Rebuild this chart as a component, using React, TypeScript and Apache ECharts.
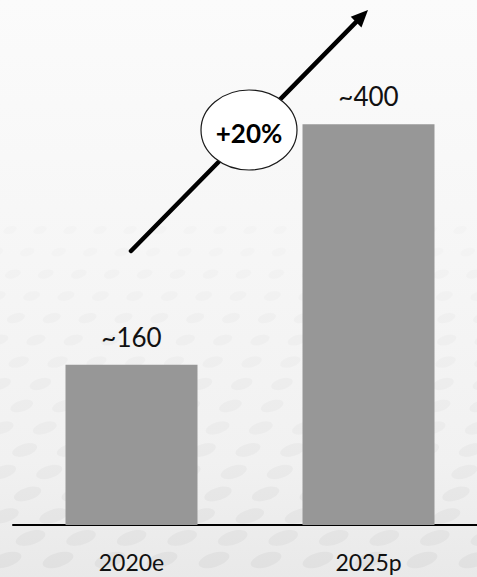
import React, { useEffect, useRef } from "react";
import * as echarts from "echarts";

// Market size by period
const categories = ["2020e", "2025p"];
const values = [160, 400];
const growthLabel = "+20%";

const FONT = "Lato, 'Open Sans', sans-serif";

// faint dotted backdrop in the lower part of the canvas
function backdropDots() {
  const dots: any[] = [];
  for (let row = 0; row < 16; row++) {
    const y = 230 + row * 22;
    const t = row / 15;
    const rx = 7 + t * 9;
    const ry = 4 + t * 3;
    const step = 30 + t * 22;
    const offset = (row % 2) * step * 0.5;
    for (let x = -20 + offset; x < 500; x += step) {
      dots.push({
        type: "ellipse",
        z: -9,
        silent: true,
        x,
        y,
        rotation: 0.3,
        shape: { cx: 0, cy: 0, rx, ry },
        style: { fill: `rgba(0,0,0,${0.012 + t * 0.022})` },
      });
    }
  }
  return dots;
}

export default function App() {
  const ref = useRef<HTMLDivElement>(null);

  useEffect(() => {
    document.body.style.margin = "0";
    if (!ref.current) return;
    const chart = echarts.init(ref.current, null, { renderer: "svg" });

    // arrow geometry (annotation)
    const start = [131, 251];
    const tip = [368, 10];
    const dx = tip[0] - start[0];
    const dy = tip[1] - start[1];
    const len = Math.hypot(dx, dy);
    const ux = dx / len;
    const uy = dy / len;
    const headLen = 17;
    const headHalf = 7.5;
    const bx = tip[0] - ux * headLen;
    const by = tip[1] - uy * headLen;
    const nx = -uy;
    const ny = ux;

    chart.setOption({
      animation: false,
      grid: {
        left: 13,
        width: 474,
        top: 24,
        bottom: 52,
        outerBoundsMode: "none",
        containLabel: false,
      },
      xAxis: {
        type: "category",
        data: categories,
        axisLine: { show: true, lineStyle: { color: "#000", width: 2 } },
        axisTick: { show: false },
        axisLabel: {
          margin: 25,
          fontSize: 23,
          fontFamily: FONT,
          color: "#111",
        },
      },
      yAxis: {
        type: "value",
        min: 0,
        max: 500,
        show: false,
        splitLine: { show: false },
      },
      series: [
        {
          type: "bar",
          data: values,
          barWidth: 132,
          itemStyle: { color: "#979797" },
          label: {
            show: true,
            position: "top",
            distance: 15,
            fontSize: 26,
            fontFamily: FONT,
            color: "#111",
            formatter: (p: any) => "~" + p.value,
          },
        },
      ],
      graphic: [
        {
          type: "rect",
          z: -10,
          silent: true,
          shape: { x: 0, y: 0, width: 477, height: 577 },
          style: {
            fill: new echarts.graphic.LinearGradient(0, 0, 0, 1, [
              { offset: 0, color: "#fbfbfb" },
              { offset: 0.45, color: "#f6f6f6" },
              { offset: 0.8, color: "#f1f1f1" },
              { offset: 1, color: "#e9e9e9" },
            ]),
          },
        },
        ...backdropDots(),
        {
          type: "line",
          z: 10,
          shape: { x1: start[0], y1: start[1], x2: bx + ux * 2, y2: by + uy * 2 },
          style: { stroke: "#000", lineWidth: 4.5, lineCap: "round" },
        },
        {
          type: "polygon",
          z: 10,
          shape: {
            points: [
              [tip[0], tip[1]],
              [bx + nx * headHalf, by + ny * headHalf],
              [bx - nx * headHalf, by - ny * headHalf],
            ],
          },
          style: { fill: "#000" },
        },
        {
          type: "ellipse",
          z: 11,
          shape: { cx: 249, cy: 130, rx: 48, ry: 40 },
          style: { fill: "#fff", stroke: "#1a1a1a", lineWidth: 1.2 },
        },
        {
          type: "text",
          z: 12,
          x: 249,
          y: 133,
          style: {
            text: growthLabel,
            fontSize: 26,
            fontWeight: "bold",
            fontFamily: FONT,
            fill: "#000",
            align: "center",
            verticalAlign: "middle",
          },
        },
      ],
    });

    return () => chart.dispose();
  }, []);

  return (
    <div
      ref={ref}
      style={{ position: "absolute", left: 0, top: 0, width: 477, height: 577 }}
    />
  );
}
